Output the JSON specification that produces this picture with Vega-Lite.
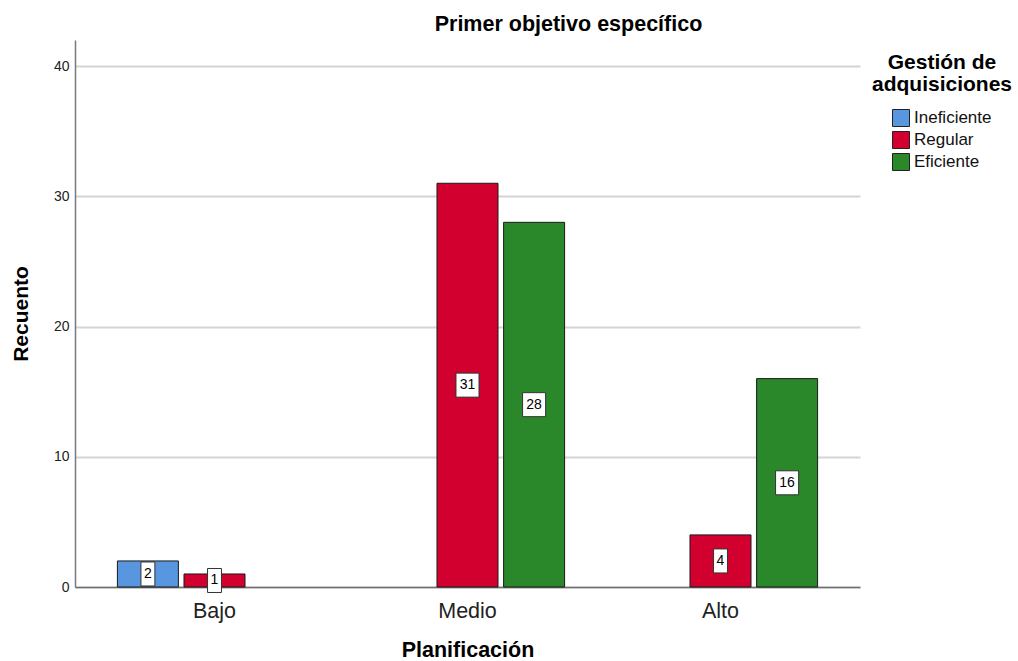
{
  "$schema": "https://vega.github.io/schema/vega-lite/v6.json",
  "width": 785,
  "height": 547,
  "autosize": {"type": "none"},
  "padding": {"left": 75, "top": 40, "right": 158, "bottom": 74},
  "background": "white",
  "config": {"view": {"stroke": null}, "font": "Liberation Sans"},
  "title": {"text": "Primer objetivo específico", "fontSize": 21.5, "fontWeight": "bold", "font": "Liberation Sans", "color": "#000", "anchor": "middle", "frame": "group", "dx": 101, "baseline": "alphabetic", "offset": -12},
  "data": {"values": [
    {"Planificacion": "Bajo", "Gestion": "Ineficiente", "Recuento": 2},
    {"Planificacion": "Bajo", "Gestion": "Regular", "Recuento": 1},
    {"Planificacion": "Medio", "Gestion": "Regular", "Recuento": 31},
    {"Planificacion": "Medio", "Gestion": "Eficiente", "Recuento": 28},
    {"Planificacion": "Alto", "Gestion": "Regular", "Recuento": 4},
    {"Planificacion": "Alto", "Gestion": "Eficiente", "Recuento": 16}
  ]},
  "encoding": {
    "x": {"field": "Planificacion", "type": "nominal", "sort": ["Bajo", "Medio", "Alto"],
      "scale": {"domain": ["Bajo", "Medio", "Alto"], "paddingInner": 0.2, "paddingOuter": 0.1514},
      "axis": {"title": "Planificación", "labelAngle": 0, "labelFontSize": 21.5, "labelColor": "#222", "labelBaseline": "alphabetic", "labelPadding": 30, "ticks": false, "tickSize": 0, "domainColor": "#6e6e6e", "domainWidth": 1.5, "titleFontSize": 21.5, "titleFontWeight": "bold", "titleColor": "#000", "titleBaseline": "alphabetic", "titleY": 69, "titleX": 392.5, "titleAlign": "center", "grid": false}},
    "xOffset": {"field": "Gestion", "type": "nominal",
      "scale": {"domain": ["Ineficiente", "Regular", "Eficiente"], "paddingInner": 0.084, "paddingOuter": 0.0615}}
  },
  "layer": [
    {
      "mark": {"type": "bar", "stroke": "#1a1a1a", "strokeWidth": 1, "opacity": 1},
      "encoding": {
        "y": {"field": "Recuento", "type": "quantitative", "scale": {"domain": [0, 42], "nice": false, "zero": true},
          "axis": {"title": "Recuento", "values": [0, 10, 20, 30, 40], "labelFontSize": 14, "labelColor": "#222", "labelPadding": 6, "ticks": false, "tickSize": 0, "domainColor": "#7a7a7a", "domainWidth": 1.5, "grid": true, "gridColor": "#d4d4d4", "gridWidth": 2, "titleFontSize": 21, "titleFontWeight": "bold", "titleColor": "#000", "titleAngle": -90, "titleX": -48, "titleY": 273.5, "titleAlign": "center", "titleBaseline": "alphabetic"}},
        "color": {"field": "Gestion", "type": "nominal",
          "scale": {"domain": ["Ineficiente", "Regular", "Eficiente"], "range": ["#5896e0", "#d1002e", "#2a872a"]},
          "legend": {"orient": "none", "legendX": 797, "legendY": 12, "title": ["Gestión de", "adquisiciones"], "titleFontSize": 21, "titleFontWeight": "bold", "titleColor": "#000", "titleAnchor": "middle", "titleAlign": "center", "titleLineHeight": 22, "titlePadding": 14, "labelFont": "Liberation Sans", "labelFontSize": 17, "labelColor": "#111", "labelOffset": 4, "rowPadding": 0, "symbolType": "square", "symbolSize": 289, "symbolStrokeColor": "#222", "symbolStrokeWidth": 1, "symbolOpacity": 1, "padding": 0}}
      }
    },
    {
      "transform": [{"filter": "datum.Recuento < 10"}],
      "mark": {"type": "point", "shape": "M-0.58,-1H0.58V1H-0.58Z", "filled": true, "fill": "white", "stroke": "#333", "strokeWidth": 1, "size": 576, "opacity": 1},
      "encoding": {
        "y": {"field": "Recuento", "type": "quantitative", "scale": {"domain": [0, 84], "nice": false}, "axis": null}
      }
    },
    {
      "transform": [{"filter": "datum.Recuento >= 10"}],
      "mark": {"type": "point", "shape": "M-0.96,-1H0.96V1H-0.96Z", "filled": true, "fill": "white", "stroke": "#333", "strokeWidth": 1, "size": 576, "opacity": 1},
      "encoding": {
        "y": {"field": "Recuento", "type": "quantitative", "scale": {"domain": [0, 84], "nice": false}, "axis": null}
      }
    },
    {
      "mark": {"type": "text", "fontSize": 14, "color": "#000", "baseline": "middle", "align": "center", "font": "Liberation Sans"},
      "encoding": {
        "y": {"field": "Recuento", "type": "quantitative", "scale": {"domain": [0, 84], "nice": false}, "axis": null},
        "text": {"field": "Recuento", "type": "quantitative"}
      }
    }
  ],
  "resolve": {"scale": {"y": "independent"}}
}
